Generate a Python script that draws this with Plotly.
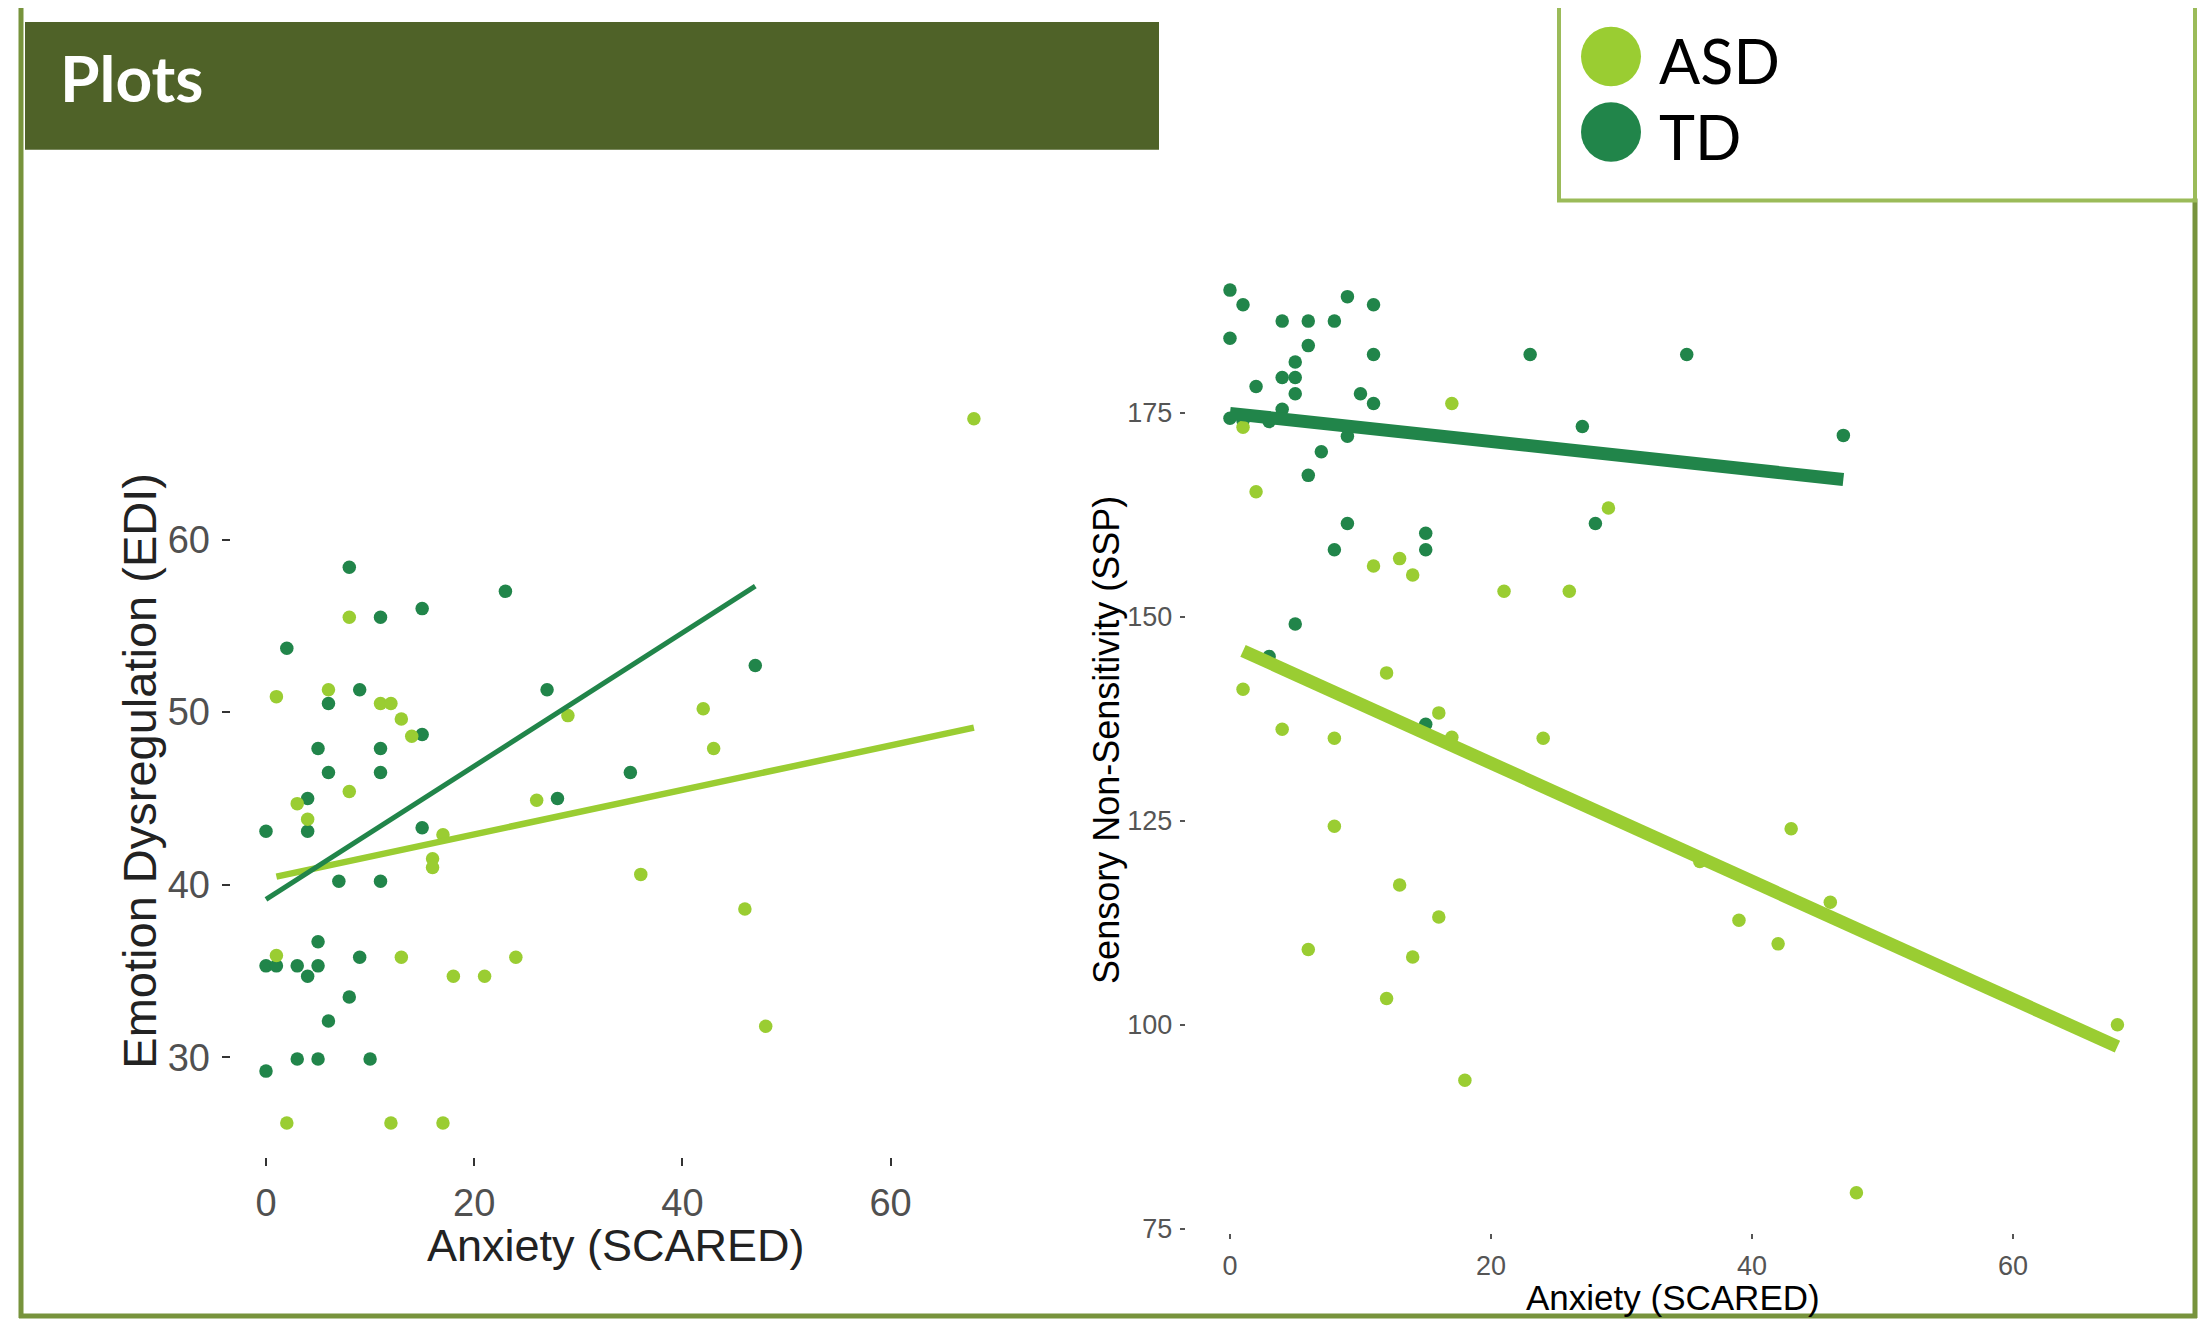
import plotly.graph_objects as go

# ---------------- data ----------------
# Left panel: Anxiety (SCARED) vs Emotion Dysregulation (EDI)
left_asd_x = [8, 1, 6, 11, 12, 13, 14, 29, 8, 3, 26, 4, 17, 16, 16, 36, 1, 13, 24, 18, 21, 2, 12, 17, 68, 42, 43, 46, 48]
left_asd_y = [55.5, 50.9, 51.3, 50.5, 50.5, 49.6, 48.6, 49.8, 45.4, 44.7, 44.9, 43.8, 42.9, 41.5, 41.0, 40.6,
              35.9, 35.8, 35.8, 34.7, 34.7, 26.2, 26.2, 26.2, 67.0, 50.2, 47.9, 38.6, 31.8]
left_td_x = [8, 23, 15, 11, 2, 9, 27, 6, 15, 5, 11, 6, 11, 35, 4, 28, 0, 4, 15, 7, 11,
             5, 0, 1, 3, 5, 4, 9, 8, 6, 3, 5, 10, 0, 47]
left_td_y = [58.4, 57.0, 56.0, 55.5, 53.7, 51.3, 51.3, 50.5, 48.7, 47.9, 47.9, 46.5, 46.5, 46.5, 45.0, 45.0,
             43.1, 43.1, 43.3, 40.2, 40.2, 36.7, 35.3, 35.3, 35.3, 35.3, 34.7, 35.8, 33.5, 32.1, 29.9, 29.9,
             29.9, 29.2, 52.7]
left_asd_fit_x = [1, 68]
left_asd_fit_y = [40.47, 49.1]
left_td_fit_x = [0, 47]
left_td_fit_y = [39.15, 57.3]
left_xticks = [0, 20, 40, 60]
left_yticks = [30, 40, 50, 60]

# Right panel: Anxiety (SCARED) vs Sensory Non-Sensitivity (SSP)
right_td_x = [0, 1, 9, 11, 4, 6, 8, 0, 6, 11, 23, 5, 4, 5, 2, 5, 10, 11, 27,
              0, 1, 3, 4, 9, 7, 6, 9, 8, 15, 15, 28, 5, 3, 35, 47, 15]
right_td_y = [190.0, 188.2, 189.2, 188.2, 186.2, 186.2, 186.2, 184.1, 183.2, 182.1, 182.1, 181.2, 179.3,
              179.3, 178.2, 177.3, 177.3, 176.1, 173.3, 174.3, 174.0, 173.9, 175.4, 172.1, 170.2, 167.3,
              161.4, 158.2, 160.2, 158.2, 161.4, 149.1, 145.1, 182.1, 172.2, 136.8]
right_asd_x = [17, 1, 2, 29, 11, 13, 14, 21, 26, 1, 12, 16, 4, 8, 17, 24, 8, 13, 16, 6, 14, 12, 18,
               36, 43, 39, 42, 46, 48, 68]
right_asd_y = [176.1, 173.2, 165.3, 163.3, 156.2, 157.1, 155.1, 153.1, 153.1, 141.1, 143.1, 138.2, 136.2,
               135.1, 135.2, 135.1, 124.3, 117.1, 113.2, 109.2, 108.3, 103.2, 93.2,
               120.0, 124.0, 112.8, 109.9, 115.0, 79.4, 100.0]
right_asd_fit_x = [1, 68]
right_asd_fit_y = [145.8, 97.3]
right_td_fit_x = [0, 47]
right_td_fit_y = [174.9, 166.8]
right_xticks = [0, 20, 40, 60]
right_yticks = [75, 100, 125, 150, 175]

groups = ["ASD", "TD"]

# ---------------- styling / layout ----------------
SCREEN_W, SCREEN_H = 2211, 1338
OFF = 8  # default page margin of the html body
W, H = SCREEN_W - OFF, SCREEN_H - OFF
ASD_C = "#9ACD32"
TD_C = "#21854A"
OLIVE_DARK = "#4F6228"
OLIVE = "#77933C"
OLIVE_LIGHT = "#9BBB59"


def fx(px):
    return (px - OFF) / W


def fy(py):
    return 1 - (py - OFF) / H


fig = go.Figure()

# left panel traces
fig.add_trace(go.Scatter(x=left_td_x, y=left_td_y, mode="markers", name=groups[1],
                         marker=dict(color=TD_C, size=13.5), xaxis="x", yaxis="y", showlegend=False))
fig.add_trace(go.Scatter(x=left_asd_x, y=left_asd_y, mode="markers", name=groups[0],
                         marker=dict(color=ASD_C, size=13.5), xaxis="x", yaxis="y", showlegend=False))
fig.add_trace(go.Scatter(x=left_asd_fit_x, y=left_asd_fit_y, mode="lines", name=groups[0] + " fit",
                         line=dict(color=ASD_C, width=6.5), xaxis="x", yaxis="y", showlegend=False))
fig.add_trace(go.Scatter(x=left_td_fit_x, y=left_td_fit_y, mode="lines", name=groups[1] + " fit",
                         line=dict(color=TD_C, width=5), xaxis="x", yaxis="y", showlegend=False))

# right panel traces
fig.add_trace(go.Scatter(x=right_td_x, y=right_td_y, mode="markers", name=groups[1],
                         marker=dict(color=TD_C, size=13.5), xaxis="x2", yaxis="y2", showlegend=False))
fig.add_trace(go.Scatter(x=right_asd_x, y=right_asd_y, mode="markers", name=groups[0],
                         marker=dict(color=ASD_C, size=13.5), xaxis="x2", yaxis="y2", showlegend=False))
fig.add_trace(go.Scatter(x=right_asd_fit_x, y=right_asd_fit_y, mode="lines", name=groups[0] + " fit",
                         line=dict(color=ASD_C, width=13), xaxis="x2", yaxis="y2", showlegend=False))
fig.add_trace(go.Scatter(x=right_td_fit_x, y=right_td_fit_y, mode="lines", name=groups[1] + " fit",
                         line=dict(color=TD_C, width=13), xaxis="x2", yaxis="y2", showlegend=False))

FONT = "Liberation Sans, Arial, sans-serif"

left_ax = dict(showgrid=False, zeroline=False, showline=False, ticks="outside",
               ticklen=8, tickwidth=2, tickcolor="#333333",
               tickfont=dict(family=FONT, size=38, color="#505050"))
right_ax = dict(showgrid=False, zeroline=False, showline=False, ticks="outside",
                ticklen=5, tickwidth=1.5, tickcolor="#555555",
                tickfont=dict(family=FONT, size=27, color="#555555"))

fig.update_layout(
    width=W, height=H,
    margin=dict(l=0, r=0, t=0, b=0),
    paper_bgcolor="white", plot_bgcolor="white",
    showlegend=False,
    xaxis=dict(domain=[fx(230.6), fx(1009.3)], range=[-3.4, 71.4], anchor="y",
               tickvals=left_xticks, ticklabelstandoff=4, **left_ax),
    yaxis=dict(domain=[fy(1167), fy(387.4)], range=[24.2, 69.0], anchor="x",
               tickvals=left_yticks, ticklabelstandoff=4, **left_ax),
    xaxis2=dict(domain=[fx(1185.6), fx(2161.8)], range=[-3.4, 71.4], anchor="y2",
                tickvals=right_xticks, ticklabelstandoff=4, **right_ax),
    yaxis2=dict(domain=[fy(1243), fy(276)], range=[74.5, 192], anchor="x2",
                tickvals=right_yticks, ticklabelstandoff=2, **right_ax),
)

shapes = []
# header band
shapes.append(dict(type="rect", xref="paper", yref="paper", x0=fx(25), x1=fx(1159), y0=fy(151), y1=fy(22),
                   fillcolor=OLIVE_DARK, line=dict(width=0), layer="below"))
# poster borders
shapes.append(dict(type="line", xref="paper", yref="paper", x0=fx(21), x1=fx(21), y0=fy(-5), y1=fy(1329),
                   line=dict(color=OLIVE, width=5)))
shapes.append(dict(type="line", xref="paper", yref="paper", x0=fx(19), x1=fx(2197), y0=fy(1327), y1=fy(1327),
                   line=dict(color=OLIVE, width=5)))
shapes.append(dict(type="line", xref="paper", yref="paper", x0=fx(2195), x1=fx(2195), y0=fy(200), y1=fy(1329),
                   line=dict(color=OLIVE, width=5)))
# legend box
shapes.append(dict(type="rect", xref="paper", yref="paper", x0=fx(1559), x1=fx(2195), y0=fy(202), y1=fy(-10),
                   fillcolor="rgba(0,0,0,0)", line=dict(color=OLIVE_LIGHT, width=4)))
# legend swatches
shapes.append(dict(type="circle", xref="paper", yref="paper", x0=fx(1581), x1=fx(1641), y0=fy(87), y1=fy(27),
                   fillcolor=ASD_C, line=dict(width=0)))
shapes.append(dict(type="circle", xref="paper", yref="paper", x0=fx(1581), x1=fx(1641), y0=fy(163), y1=fy(103),
                   fillcolor=TD_C, line=dict(width=0)))
fig.update_layout(shapes=shapes)

ann = []
ann.append(dict(text="<b>Plots</b>", xref="paper", yref="paper", x=fx(58), y=fy(78), xanchor="left",
                yanchor="middle", showarrow=False, font=dict(family="Lato", size=64, color="white")))
ann.append(dict(text=groups[0], xref="paper", yref="paper", x=fx(1657), y=fy(61), xanchor="left",
                yanchor="middle", showarrow=False, font=dict(family="Lato", size=61, color="black")))
ann.append(dict(text=groups[1], xref="paper", yref="paper", x=fx(1657), y=fy(138), xanchor="left",
                yanchor="middle", showarrow=False, font=dict(family="Lato", size=61, color="black")))
# axis titles
ann.append(dict(text="Anxiety (SCARED)", xref="paper", yref="paper", x=fx(616), y=fy(1256), xanchor="center",
                yanchor="middle", showarrow=False, font=dict(family=FONT, size=45, color="#222222")))
ann.append(dict(text="Emotion Dysregulation (EDI)", xref="paper", yref="paper", x=fx(140), y=fy(777),
                xanchor="center", yanchor="middle", textangle=-90, showarrow=False,
                font=dict(family=FONT, size=47, color="#222222")))
ann.append(dict(text="Anxiety (SCARED)", xref="paper", yref="paper", x=fx(1673), y=fy(1308), xanchor="center",
                yanchor="middle", showarrow=False, font=dict(family=FONT, size=35, color="black")))
ann.append(dict(text="Sensory Non-Sensitivity (SSP)", xref="paper", yref="paper", x=fx(1107), y=fy(746),
                xanchor="center", yanchor="middle", textangle=-90, showarrow=False,
                font=dict(family=FONT, size=36, color="black")))
fig.update_layout(annotations=ann)

fig.write_html("out.html")
